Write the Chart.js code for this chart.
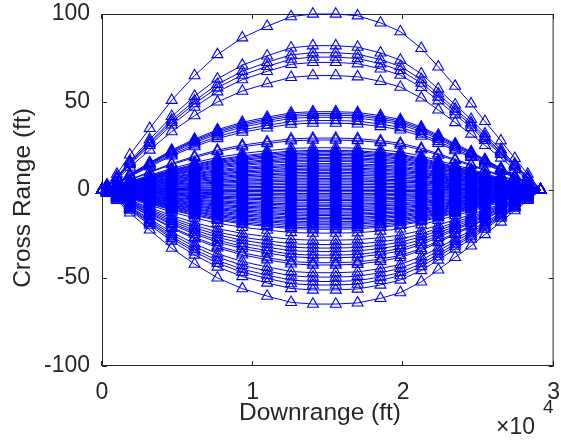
<!DOCTYPE html>
<html>
<head>
<meta charset="utf-8">
<script src="https://cdn.jsdelivr.net/npm/chart.js@4.4.0/dist/chart.umd.min.js"></script>
<style>
  html, body { margin: 0; padding: 0; background: #fff; }
  #wrap { width: 561px; height: 440px; }
</style>
</head>
<body>
<div id="wrap"><canvas id="chart"></canvas></div>
<script>
// downrange of each marker (ft), same stations for every run
const downrange = [0, 330, 990, 1850, 3170, 4630, 6150, 7670, 9320, 10970, 12560, 14010,
  15530, 16980, 18500, 19820, 21210, 22340, 23460, 24520, 25440, 26500, 27420, 28280, 29140];
const profile = [0, 0.03, 0.09, 0.20, 0.35, 0.51, 0.65, 0.77, 0.865, 0.93, 0.985, 1.0,
  1.0, 0.99, 0.95, 0.90, 0.805, 0.70, 0.59, 0.49, 0.39, 0.28, 0.18, 0.09, 0];
// peak cross range of each run (ft)
const peaks = [100, 82, 78, 75.5, 72.5, 65, 44.5, 43.5, 42.5, 41.3, 39.5, 38, 29.5, 28.4,
  24, 22.5, 21.8, 21, 20.2, 19.5, 18.5, 17.8, 17, 16.2, 15, 14.2, 13.5, 12.5, 11.8, 11, 10,
  9.3, 8.4, 7.5, 6.5, 5.8, 5, 4, 3.2, 2.2, 1.5, 0.5, -0.3, -1, -2, -2.8, -3.5, -4.5, -5.3,
  -6, -7, -8, -8.7, -9.5, -10.5, -11.2, -12, -13, -13.8, -14.5, -15.5, -16.3, -17, -18,
  -18.8, -19.5, -20.5, -21.5, -22.3, -24.5, -28.5, -31, -33, -35, -37, -38.5, -41.3, -42.6,
  -47, -49.5, -52, -54, -56.8, -64.8];
const xTicks = [0, 10000, 20000, 30000];
const yTicks = [-100, -50, 0, 50, 100];

const FONT = '"Liberation Sans", Arial, Helvetica, sans-serif';
const INK = '#262626';
const BLUE = '#0000ff';

const datasets = peaks.map(p => ({
  data: downrange.map((x, i) => ({ x: x, y: p * profile[i] })),
  showLine: true,
  borderColor: BLUE,
  borderWidth: 1,
  tension: 0,
  pointStyle: 'triangle',
  pointRadius: 6.3,
  pointBorderWidth: 1.1,
  pointBorderColor: BLUE,
  pointBackgroundColor: 'rgba(0,0,0,0)',
  clip: false
}));

// box, inward ticks on all four sides, axis titles and the exponent
const matlabAxes = {
  id: 'matlabAxes',
  beforeDatasetsDraw(chart) {
    const { ctx, chartArea: a, scales: { x, y } } = chart;
    ctx.save();
    ctx.strokeStyle = INK;
    ctx.lineWidth = 1;
    ctx.beginPath();
    ctx.rect(a.left + 0.5, a.top + 0.5, a.right - a.left - 1, a.bottom - a.top - 1);
    xTicks.forEach(v => {
      const px = Math.round(x.getPixelForValue(v)) - 0.5;
      ctx.moveTo(px, a.bottom); ctx.lineTo(px, a.bottom - 5);
      ctx.moveTo(px, a.top); ctx.lineTo(px, a.top + 5);
    });
    yTicks.forEach(v => {
      const py = Math.round(y.getPixelForValue(v)) + 0.5;
      ctx.moveTo(a.left, py); ctx.lineTo(a.left + 5, py);
      ctx.moveTo(a.right, py); ctx.lineTo(a.right - 5, py);
    });
    ctx.stroke();
    ctx.restore();
  },
  afterDraw(chart) {
    const { ctx } = chart;
    ctx.save();
    ctx.fillStyle = INK;
    ctx.textAlign = 'center';
    ctx.textBaseline = 'middle';
    ctx.font = '24.5px ' + FONT;
    ctx.fillText('Downrange (ft)', 320, 413);
    ctx.translate(23, 198);
    ctx.rotate(-Math.PI / 2);
    ctx.fillText('Cross Range (ft)', 0, 0);
    ctx.restore();

    ctx.save();
    ctx.fillStyle = INK;
    ctx.textAlign = 'left';
    ctx.textBaseline = 'alphabetic';
    ctx.font = '23px ' + FONT;
    ctx.fillText('\u00d710', 496, 434);
    ctx.font = '19px ' + FONT;
    ctx.fillText('4', 543, 413);
    ctx.restore();
  }
};

new Chart(document.getElementById('chart'), {
  type: 'scatter',
  data: { datasets: datasets },
  options: {
    responsive: true,
    maintainAspectRatio: false,
    animation: false,
    events: [],
    layout: { padding: { top: 14, right: 5, left: 0, bottom: 0 } },
    plugins: { legend: { display: false }, tooltip: { enabled: false } },
    scales: {
      x: {
        type: 'linear',
        min: 0,
        max: 30000,
        afterBuildTicks: s => { s.ticks = xTicks.map(v => ({ value: v })); },
        ticks: {
          callback: v => v / 10000,
          color: INK,
          font: { family: FONT, size: 23 },
          padding: 13,
          maxRotation: 0,
          autoSkip: false
        },
        grid: { display: false, drawTicks: false },
        border: { display: false },
        afterFit: s => { s.height = 74; s.paddingLeft = 0; s.paddingRight = 0; }
      },
      y: {
        type: 'linear',
        min: -100,
        max: 100,
        afterBuildTicks: s => { s.ticks = yTicks.map(v => ({ value: v })); },
        ticks: {
          color: INK,
          font: { family: FONT, size: 23 },
          padding: 12
        },
        grid: { display: false, drawTicks: false },
        border: { display: false },
        afterFit: s => { s.width = 102; s.paddingTop = 0; s.paddingBottom = 0; }
      }
    }
  },
  plugins: [matlabAxes]
});
</script>
</body>
</html>
